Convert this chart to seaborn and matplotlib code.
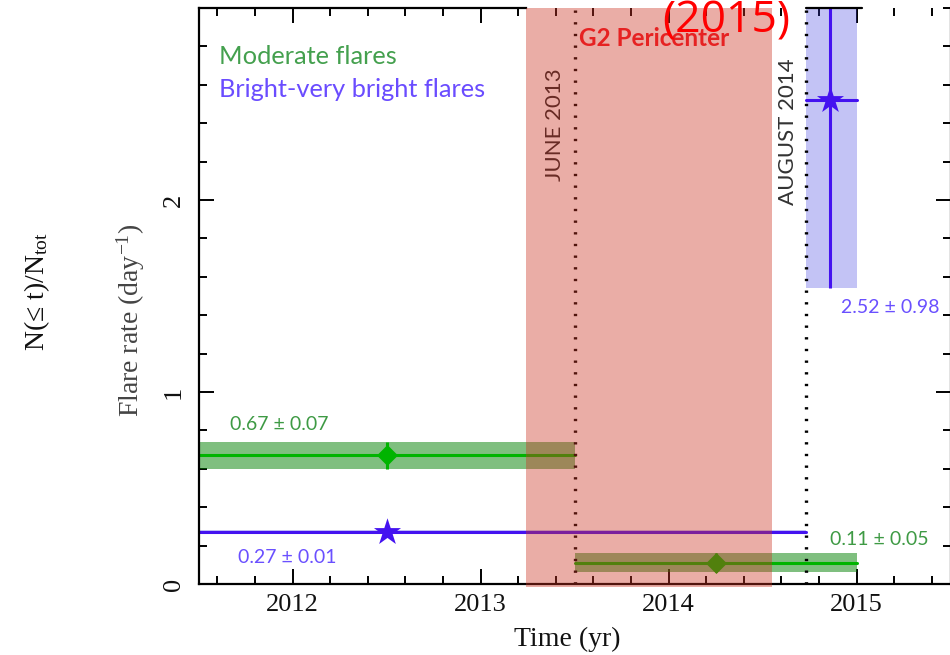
import matplotlib
matplotlib.use("Agg")
import numpy as np
import pandas as pd
import matplotlib.pyplot as plt
import seaborn as sns
from matplotlib.ticker import MultipleLocator, FixedLocator

sns.set_theme(style="ticks")
plt.rcParams["font.family"] = ["Liberation Serif", "DejaVu Serif"]
plt.rcParams["mathtext.fontset"] = "custom"
plt.rcParams["mathtext.rm"] = "Liberation Serif"
plt.rcParams["mathtext.it"] = "Liberation Serif:italic"

# ---- flare-rate segments -------------------------------------------------
seg_group = ["Moderate", "Moderate", "Bright", "Bright"]
seg_start = [2011.5, 2013.5, 2011.5, 2014.73]
seg_end = [2013.5, 2015.0, 2014.73, 2015.0]
seg_rate = [0.67, 0.11, 0.27, 2.52]
seg_err = [0.07, 0.05, 0.01, 0.98]
point_time = [2012.5, 2014.25, 2012.5, 2014.86]
rate_text = ["0.67 ± 0.07", "0.11 ± 0.05", "0.27 ± 0.01", "2.52 ± 0.98"]

# events
event_time = [2013.5, 2014.73]
event_label = ["JUNE 2013", "AUGUST 2014"]
pericenter_window = [2013.24, 2014.55]

# axis ticks
year_ticks = [2012, 2013, 2014, 2015]
rate_ticks = [0, 1, 2]

# ---- styling --------------------------------------------------------------
line_col = {"Moderate": "#00b400", "Bright": "#4412f0"}
band_col = {"Moderate": "#008000", "Bright": "#3a3ae0"}
band_alpha = {"Moderate": 0.5, "Bright": 0.3}
text_col = {"Moderate": "#3e9a44", "Bright": "#6a50ff"}
marker_of = {"Moderate": "D", "Bright": "*"}
# label placement (data coords) for the rate annotations
text_xy = [(2011.665, 0.83), (2014.86, 0.234), (2011.71, 0.14), (2014.92, 1.44)]

sans = ["Lato", "DejaVu Sans"]

fig = plt.figure(figsize=(9.5, 6.55), dpi=100)
ax = fig.add_axes([198.5 / 950, 1 - 584 / 655, 752 / 950, 576 / 655])

# shaded uncertainty bands
for g, s, e, r, er in zip(seg_group, seg_start, seg_end, seg_rate, seg_err):
    ax.fill_between([s, e], [r - er, r - er], [r + er, r + er],
                    color=band_col[g], alpha=band_alpha[g], lw=0, zorder=1)

# rate lines, one polyline per segment
lines = pd.DataFrame({
    "time": [t for s, e in zip(seg_start, seg_end) for t in (s, e)],
    "rate": [r for r in seg_rate for _ in range(2)],
    "group": [g for g in seg_group for _ in range(2)],
    "seg": [i for i in range(len(seg_rate)) for _ in range(2)],
})
sns.lineplot(data=lines, x="time", y="rate", hue="group", units="seg",
             estimator=None, sort=False, palette=line_col, lw=2.2,
             legend=False, ax=ax, zorder=2)

# error bars and markers at the segment centres
for g, t, r, er in zip(seg_group, point_time, seg_rate, seg_err):
    ax.errorbar([t], [r], yerr=[er], fmt="none", ecolor=line_col[g],
                elinewidth=2.2, capsize=0, zorder=3)

points = pd.DataFrame({"time": point_time, "rate": seg_rate, "group": seg_group})
for g, size in (("Moderate", 115), ("Bright", 420)):
    sub = points[points["group"] == g]
    sns.scatterplot(data=sub, x="time", y="rate", color=line_col[g],
                    marker=marker_of[g], s=size, linewidth=0, legend=False,
                    ax=ax, zorder=4)

# event markers
for t in event_time:
    ax.axvline(t, color="black", lw=2.4, linestyle=(0, (0.7, 2.8)), zorder=3)
ax.text(2013.396, 2.39, event_label[0], rotation=90, ha="center", va="center",
        fontsize=16, family=sans, color="#262626", zorder=3)
ax.text(2014.636, 2.354, event_label[1], rotation=90, ha="center", va="center",
        fontsize=16, family=sans, color="#333333", zorder=3)

# pericenter passage window
ax.axvspan(pericenter_window[0], pericenter_window[1], ymin=-0.006, ymax=1.0,
           color="#cc3322", alpha=0.4, lw=0, zorder=6, clip_on=False)
ax.text(2013.524, 2.84, "G2 Pericenter", ha="left", va="center",
        fontsize=17.5, fontweight="bold", family=sans, color="#e62222", zorder=8)

# rate annotations
for g, txt, (x, y) in zip(seg_group, rate_text, text_xy):
    ax.text(x, y, txt, ha="left", va="center", fontsize=14, family=sans,
            color=text_col[g], zorder=8)

# key
ax.text(2011.61, 2.745, "Moderate flares", ha="left", va="center",
        fontsize=18.3, family=sans, color="#44a04e", zorder=8)
ax.text(2011.61, 2.573, "Bright-very bright flares", ha="left", va="center",
        fontsize=18.3, family=sans, color="#6a4cff", zorder=8)

# axes
ax.set_xlim(2011.5, 2015.5)
ax.set_ylim(0, 3)
ax.xaxis.set_major_locator(FixedLocator(year_ticks))
ax.xaxis.set_minor_locator(MultipleLocator(0.2))
ax.yaxis.set_major_locator(FixedLocator(rate_ticks))
ax.yaxis.set_minor_locator(MultipleLocator(0.2))
ax.tick_params(which="both", direction="in", top=True, right=True,
               width=1.4, color="black", labelsize=19, labelcolor="#111111")
ax.tick_params(which="major", length=11)
ax.tick_params(which="minor", length=5.5)
ax.tick_params(axis="y", labelrotation=90, pad=10)
ax.tick_params(axis="x", pad=7)
for lab in ax.get_yticklabels():
    lab.set_va("center")

for sp in ax.spines.values():
    sp.set_linewidth(1.6)
    sp.set_color("black")
    sp.set_zorder(5)
ax.spines["top"].set_bounds(2011.5, pericenter_window[0])
ax.axhline(3, xmin=(event_time[1] - 2011.5) / 4, xmax=(2015.03 - 2011.5) / 4,
           color="black", lw=1.6, clip_on=False, zorder=5)

ax.set_xlabel("Time (yr)", fontsize=20, va="center", color="#111111")
ax.xaxis.set_label_coords(0.49, -0.097)
ax.set_ylabel("Flare rate (day$^{-1}$)", fontsize=20, va="center", color="#444444")
ax.yaxis.set_label_coords(-0.0904, 0.458)

fig.text(37 / 950, 1 - 292 / 655, r"N(≤ t)/N$_{\rm tot}$", rotation=90,
         ha="center", va="center", fontsize=20, color="#111111")
fig.text(662 / 950, 1 - 33 / 655, "(2015)", ha="left", va="baseline",
         fontsize=32, family=["Open Sans", "DejaVu Sans"], color="#ff0000",
         zorder=10)

fig.savefig("out.png", dpi=100)
